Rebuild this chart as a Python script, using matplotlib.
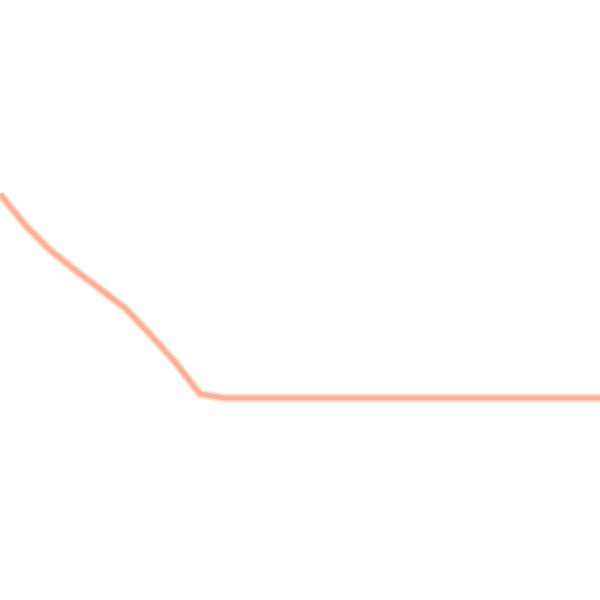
import matplotlib
matplotlib.use('Agg')
import matplotlib.pyplot as plt

# Datos de la serie (posicion horizontal y valor)
x_vals = [0, 1, 2, 3, 4, 5, 6, 7, 8, 9, 10, 11, 12, 13, 14, 15, 16, 17, 18, 19, 20, 21, 22, 23, 24]
y_vals = [406, 375, 350, 330, 311, 292, 266, 238, 206, 202, 202, 202, 202, 202, 202, 202, 202, 202, 202, 202, 202, 202, 202, 202, 202]

fig = plt.figure(figsize=(6, 6), dpi=100)
ax = fig.add_axes([0, 0, 1, 1])

# halo claro debajo y linea principal encima
ax.plot(x_vals, y_vals, color='#ffdcca', linewidth=6.2, solid_capstyle='butt')
ax.plot(x_vals, y_vals, color='#fcb09a', linewidth=3.4, solid_capstyle='butt')

ax.set_xlim(0, 24)
ax.set_ylim(0, 600)
ax.axis('off')

fig.savefig('out.png', dpi=100, facecolor='white')
